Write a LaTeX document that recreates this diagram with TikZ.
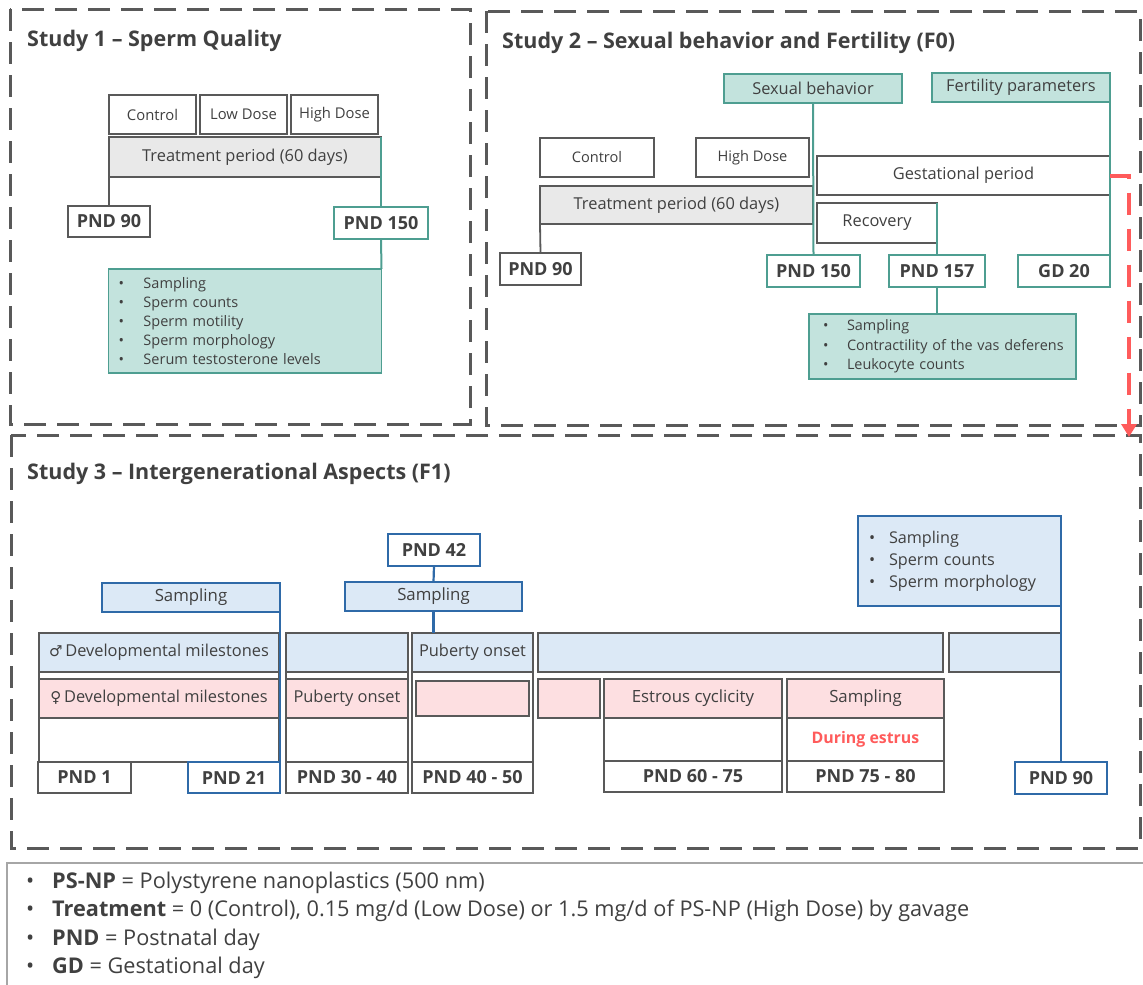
\documentclass[tikz,border=0pt]{standalone}
\usepackage{fontspec}
\setmainfont{Open Sans}
\newfontfamily\symfont{DejaVu Sans}
\usetikzlibrary{arrows.meta}
\definecolor{txt}{HTML}{404040}
\definecolor{gb}{HTML}{595959}
\definecolor{tealB}{HTML}{4E9E91}
\definecolor{tealF}{HTML}{C3E3DD}
\definecolor{grayF}{HTML}{E9E9E9}
\definecolor{blueB}{HTML}{2F6AA8}
\definecolor{blueF}{HTML}{DCE9F6}
\definecolor{pinkF}{HTML}{FDDFE1}
\definecolor{redc}{HTML}{FF5B5B}
\definecolor{legc}{HTML}{A6A6A6}
\newcommand{\fsz}[2]{\fontsize{#1}{#2}\selectfont}
\newcommand{\bx}[7]{\node[#2, minimum width={#5-#3}, minimum height={#6-#4}] (#1) at ({(#3+#5)/2},{(#4+#6)/2}) {#7};}
\newcommand{\bul}[2]{\mbox{\makebox[#1][l]{\textbullet}#2}}
\tikzset{
  base/.style={draw, line width=1.8pt, inner sep=0pt, outer sep=0pt, text=txt},
  gbox/.style={base, draw=gb, fill=white},
  gfill/.style={base, draw=gb, fill=grayF},
  tbox/.style={base, draw=tealB, fill=white},
  tfill/.style={base, draw=tealB, fill=tealF},
  bbox/.style={base, draw=blueB, fill=white},
  bfill/.style={base, draw=blueB, fill=blueF},
  mbox/.style={base, draw=gb, fill=blueF},
  fbox/.style={base, draw=gb, fill=pinkF},
  pnd/.style={font=\bfseries\fsz{18}{21}},
  fa/.style={font=\fsz{14.8}{17}},
  fb/.style={font=\fsz{16.4}{19}},
  fc/.style={font=\fsz{16.8}{19}},
  fm/.style={font=\fsz{16.4}{19}},
  gline/.style={draw=gb, line width=1.8pt},
  tline/.style={draw=tealB, line width=2pt},
  bline/.style={draw=blueB, line width=2.2pt},
  frame/.style={draw=gb, line width=3pt, dash pattern=on 22pt off 11pt},
  title/.style={anchor=west, font=\bfseries\fsz{21.5}{25}, text=txt, inner sep=0pt},
  redarrow/.style={draw=redc, line width=4pt, dash pattern=on 22pt off 14pt, -{Triangle[width=15pt,length=13pt]}}
}
\begin{document}
\begin{tikzpicture}[x=1pt,y=-1pt]
\useasboundingbox (0,0) rectangle (1143,985);

% ---------- frames ----------
\draw[frame] (10,9) rectangle (470,424);
\draw[frame] (486,11) rectangle (1140,425);
\draw[frame] (11,435) rectangle (1140,848);

% ---------- Study 1 ----------
\node[title] (t1) at (27,41) {Study 1 – Sperm Quality};
\bx{c1}{gbox,fa}{109}{95}{196}{134}{Control}
\bx{l1}{gbox,fa}{200}{95}{287}{134}{Low Dose}
\bx{h1}{gbox,fa}{291}{95}{378}{134}{High Dose}
\bx{tp1}{gfill,fb}{109}{137}{381}{177}{Treatment period (60 days)}
\bx{pa1}{gbox,pnd}{68}{206}{150}{237}{PND 90}
\bx{pb1}{tbox,pnd}{334}{207}{428}{239}{PND 150}
\bx{sm1}{tfill,font=\fsz{14.5}{19},align=left,text width=253pt,inner xsep=10pt}{109}{269}{381}{373}{%
\bul{25pt}{Sampling}\\
\bul{25pt}{Sperm counts}\\
\bul{25pt}{Sperm motility}\\
\bul{25pt}{Sperm morphology}\\
\bul{25pt}{Serum testosterone levels}}
\draw[gline] (tp1.south west) -- (pa1.north);
\draw[tline] (tp1.north east) -- (tp1.north east |- pb1.north);
\draw[tline] (pb1.south) -- (sm1.north east);

% ---------- Study 2 ----------
\node[title] (t2) at (502,43) {Study 2 – Sexual behavior and Fertility (F0)};
\bx{sb}{tfill,fb}{724}{74}{902}{103}{Sexual behavior}
\bx{fp}{tfill,fb}{932}{73}{1110}{102}{Fertility parameters}
\bx{c2}{gbox,font=\fsz{14.6}{17}}{540}{138}{654}{177}{Control}
\bx{h2}{gbox,font=\fsz{14.6}{17}}{696}{138}{809}{177}{High Dose}
\bx{tp2}{gfill,fb}{540}{186}{813}{224}{Treatment period (60 days)}
\bx{gp}{gbox,fb}{817}{156}{1110}{195}{Gestational period}
\bx{rec}{gbox,fb}{817}{203}{937}{243}{Recovery}
\bx{pa2}{gbox,pnd}{500}{253}{581}{285}{PND 90}
\bx{pb2}{tbox,pnd}{767}{255}{860}{287}{PND 150}
\bx{pc2}{tbox,pnd}{889}{255}{985}{287}{PND 157}
\bx{gd}{tbox,pnd}{1018}{255}{1110}{287}{GD 20}
\bx{sm2}{tfill,font=\fsz{14.4}{19.5},align=left,text width=239pt,inner xsep=14pt}{809}{314}{1076}{379}{%
\bul{24pt}{Sampling}\\
\bul{24pt}{Contractility of the vas deferens}\\
\bul{24pt}{Leukocyte counts}}
\draw[gline] (tp2.south west) -- (pa2.north);
\draw[tline] (sb.south) -- (pb2.north);
\draw[tline] (fp.south east) -- (gd.north east);
\draw[tline] (rec.north east) -- (pc2.north);
\draw[tline] (pc2.south) -- (pc2.south |- sm2.north);
\coordinate (arrEnd) at (1129,437);
\draw[redarrow] (gp.east) -| (arrEnd);

% ---------- Study 3 ----------
\node[title] (t3) at (27,474) {Study 3 – Intergenerational Aspects (F1)};
% column backgrounds
\bx{col1}{gbox}{39}{633}{279}{762}{}
\bx{col2}{gbox}{286}{633}{408}{762}{}
\bx{col3}{gbox}{412}{633}{533}{762}{}
\bx{w5}{gbox}{604}{718}{782}{761}{}
\bx{w6}{gbox,font=\bfseries\fsz{15.9}{18},text=redc}{787}{718}{944}{761}{During estrus}
% male row
\bx{m1}{mbox,fm}{39}{633}{279}{672}{{\symfont\fsz{15}{18}♂}\,Developmental milestones}
\bx{m2}{mbox}{286}{633}{408}{672}{}
\bx{m3}{mbox,fm}{412}{633}{533}{672}{Puberty onset}
\bx{m4}{mbox}{538}{633}{943}{672}{}
\bx{m7}{mbox}{949}{633}{1061}{672}{}
% female row
\bx{f1}{fbox,fm}{39}{679}{279}{718}{{\symfont\fsz{15}{18}♀}\,Developmental milestones}
\bx{f2}{fbox,fm}{286}{679}{408}{718}{Puberty onset}
\bx{f3}{fbox,line width=2.6pt}{416}{681}{529}{716}{}
\bx{f4}{fbox}{538}{679}{600}{718}{}
\bx{f5}{fbox,fc}{604}{679}{782}{718}{Estrous cyclicity}
\bx{f6}{fbox,fc}{787}{679}{944}{718}{Sampling}
% PND row
\bx{pnd1}{gbox,pnd}{38}{762}{131}{793}{PND 1}
\bx{pnd21}{bbox,pnd}{188}{762}{280}{793}{PND 21}
\bx{pnd3040}{gbox,pnd}{286}{762}{408}{793}{PND 30 - 40}
\bx{pnd4050}{gbox,pnd}{412}{762}{533}{793}{PND 40 - 50}
\bx{pnd6075}{gbox,pnd}{604}{761}{782}{792}{PND 60 - 75}
\bx{pnd7580}{gbox,pnd}{787}{761}{944}{792}{PND 75 - 80}
\bx{pnd90c}{bbox,pnd}{1015}{762}{1107}{794}{PND 90}
% sampling
\bx{p42}{bbox,pnd}{388}{534}{480}{566}{PND 42}
\bx{sa2}{bfill,fc}{345}{582}{522}{611}{Sampling}
\bx{sa1}{bfill,fc}{102}{583}{280}{612}{Sampling}
\bx{bl3}{bfill,font=\fsz{16.2}{22},align=left,text width=181pt,inner xsep=11pt}{858}{516}{1061}{606}{%
\bul{20pt}{Sampling}\\
\bul{20pt}{Sperm counts}\\
\bul{20pt}{Sperm morphology}}
\draw[bline] (p42.south) -- (sa2.north);
\draw[bline] (sa2.south) -- (sa2.south |- m3.north);
\draw[bline] (sa1.south east) -- (pnd21.north east);
\draw[bline] (bl3.south east) -- (pnd90c.north);

% ---------- legend ----------
\draw[draw=legc, line width=1.3pt] (1143,863) -- (7,863) -- (7,985);
\node[anchor=west, align=left, font=\fsz{21.7}{28.4}, text=txt, inner sep=0pt] (leg) at (26,925.5) {%
\bul{26pt}{\textbf{PS-NP} = Polystyrene nanoplastics (500 nm)}\\
\bul{26pt}{\textbf{Treatment} = 0 (Control), 0.15 mg/d (Low Dose) or 1.5 mg/d of PS-NP (High Dose) by gavage}\\
\bul{26pt}{\textbf{PND} = Postnatal day}\\
\bul{26pt}{\textbf{GD} = Gestational day}};
\end{tikzpicture}
\end{document}
